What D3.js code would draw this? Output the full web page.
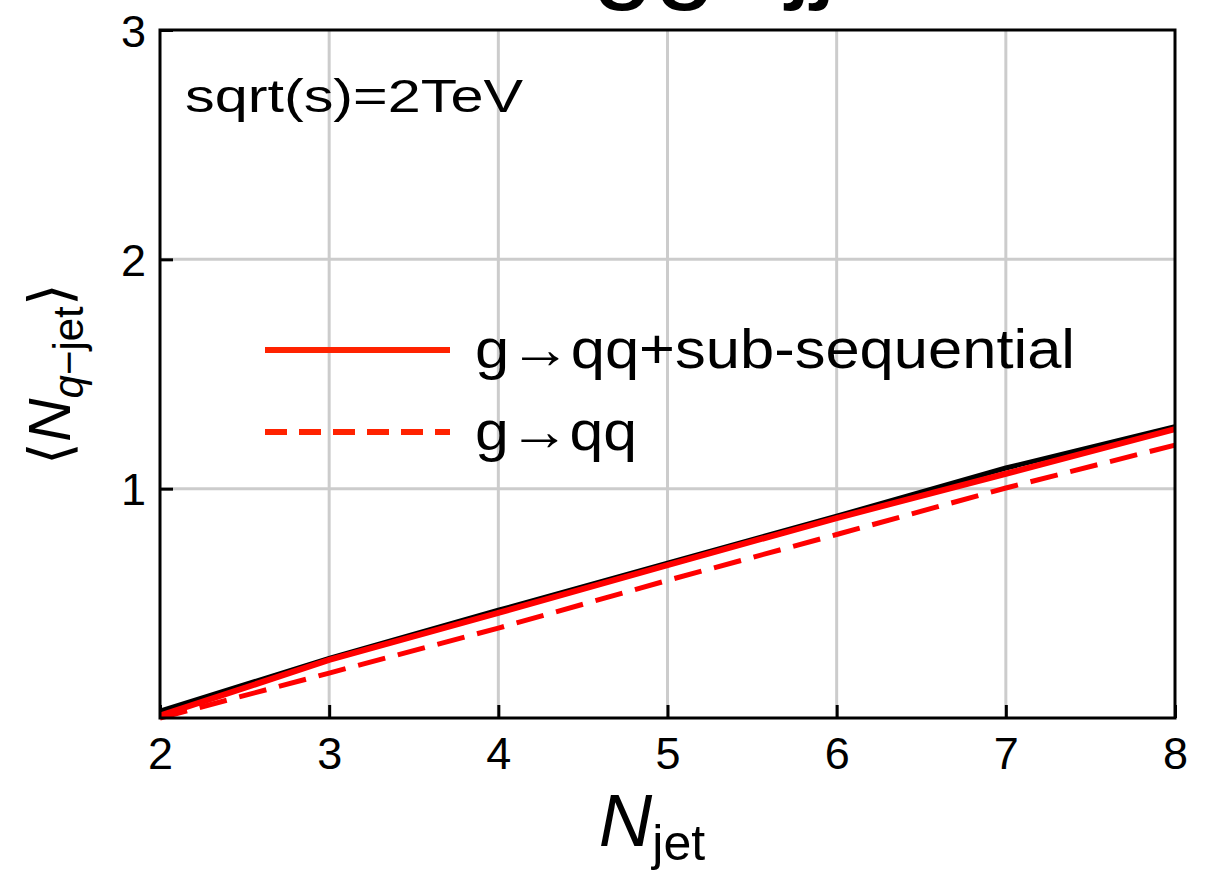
<!DOCTYPE html>
<html><head><meta charset="utf-8">
<script src="https://cdn.jsdelivr.net/npm/d3@7"></script>
<style>body{margin:0;background:#fff}svg{display:block}text{font-family:"Liberation Sans",Arial,sans-serif}</style>
</head><body>
<svg id="c" width="1212" height="878"></svg>
<script>
const nJet = [2,3,4,5,6,7,8];
const blackSeries = [0.03,0.26,0.47,0.675,0.88,1.09,1.27];
const redSolid = [0.01,0.253,0.458,0.667,0.872,1.065,1.26];
const redDashed = [0.0,0.196,0.392,0.60,0.80,1.003,1.19];
const xTicks = [2,3,4,5,6,7,8];
const yTicks = [1,2,3];
const legendLabels = ["g→qq+sub-sequential","g→qq"];

const svg = d3.select("#c");
const L=160,R=1175,T=30,B=718;
const x = d3.scaleLinear().domain([2,8]).range([L,R]);
const y = d3.scaleLinear().domain([0,3]).range([B,T]);

// title (cut off at top edge, as in the reference)
const tt = svg.append("text").attr("x",592).attr("y",-12).attr("font-size",112);
tt.append("tspan").text("gg");
tt.append("tspan").attr("font-size",70).text("→");
tt.append("tspan").text("jj");

// grid
const g = svg.append("g");
g.selectAll(".gx").data(xTicks.slice(1,-1)).enter().append("line")
  .attr("x1",d=>x(d)).attr("x2",d=>x(d)).attr("y1",T).attr("y2",B)
  .attr("stroke","#cccccc").attr("stroke-width",3);
g.selectAll(".gy").data(yTicks.slice(0,-1)).enter().append("line")
  .attr("x1",L).attr("x2",R).attr("y1",d=>y(d)).attr("y2",d=>y(d))
  .attr("stroke","#cccccc").attr("stroke-width",3);

// axes (inward ticks)
const xa = svg.append("g").attr("transform",`translate(0,${B})`)
  .call(d3.axisBottom(x).tickValues(xTicks).tickFormat(d3.format("d")).tickSizeInner(-13).tickSizeOuter(0).tickPadding(19));
const ya = svg.append("g").attr("transform",`translate(${L},0)`)
  .call(d3.axisLeft(y).tickValues(yTicks).tickFormat(d3.format("d")).tickSizeInner(-13).tickSizeOuter(0).tickPadding(14));
[xa,ya].forEach(a=>{
  a.select(".domain").remove();
  a.selectAll(".tick line").attr("stroke","#000").attr("stroke-width",3);
  a.selectAll(".tick text").attr("font-size",45).attr("fill","#000")
   .style("font-family","'Liberation Sans',Arial,sans-serif");
});
xa.selectAll(".tick text").attr("dy","0.71em");
ya.selectAll(".tick text").attr("dy","0.36em");

// lines
const line = d3.line().x((d,i)=>x(nJet[i])).y(d=>y(d));
svg.append("clipPath").attr("id","pc").append("rect")
  .attr("x",L-3).attr("y",T).attr("width",R-L+6).attr("height",B-T+3);
const lines = svg.append("g").attr("clip-path","url(#pc)");
lines.append("path").datum(blackSeries).attr("d",line).attr("fill","none")
  .attr("stroke","#000").attr("stroke-width",5);
lines.append("path").datum(redSolid).attr("d",line).attr("fill","none")
  .attr("stroke","#ff0000").attr("stroke-width",6);
lines.append("path").datum(redDashed).attr("d",line).attr("fill","none")
  .attr("stroke","#ff0000").attr("stroke-width",5).attr("stroke-dasharray","28,13");

// frame
svg.append("rect").attr("x",L).attr("y",T).attr("width",R-L).attr("height",B-T)
  .attr("fill","none").attr("stroke","#000").attr("stroke-width",3);

// annotation
svg.append("text").attr("x",185).attr("y",112).attr("font-size",46)
  .attr("textLength",338).attr("lengthAdjust","spacingAndGlyphs").text("sqrt(s)=2TeV");

// legend
const leg = svg.append("g");
leg.append("line").attr("x1",265).attr("x2",450).attr("y1",350).attr("y2",350)
  .attr("stroke","#ff2200").attr("stroke-width",6);
leg.append("line").attr("x1",265).attr("x2",450).attr("y1",432).attr("y2",432)
  .attr("stroke","#ff2200").attr("stroke-width",6).attr("stroke-dasharray","22,12");
leg.append("text").attr("x",475).attr("y",368).attr("font-size",56)
  .attr("textLength",600).attr("lengthAdjust","spacingAndGlyphs").text(legendLabels[0]);
leg.append("text").attr("x",475).attr("y",450).attr("font-size",56)
  .attr("textLength",162).attr("lengthAdjust","spacingAndGlyphs").text(legendLabels[1]);

// x label
const xl = svg.append("text").attr("x",652).attr("y",846).attr("text-anchor","middle");
xl.append("tspan").attr("font-size",74).attr("font-style","italic").text("N");
xl.append("tspan").attr("font-size",50).attr("dy",14).text("jet");

// y label
const yl = svg.append("text").attr("transform","translate(70,374) rotate(-90)").attr("text-anchor","middle");
yl.append("tspan").attr("font-size",58).text("⟨");
yl.append("tspan").attr("font-size",60).attr("font-style","italic").text("N");
yl.append("tspan").attr("font-size",42).attr("dy",13).attr("font-style","italic").text("q");
yl.append("tspan").attr("font-size",42).text("−jet");
yl.append("tspan").attr("font-size",58).attr("dy",-13).text("⟩");
</script>
</body></html>
